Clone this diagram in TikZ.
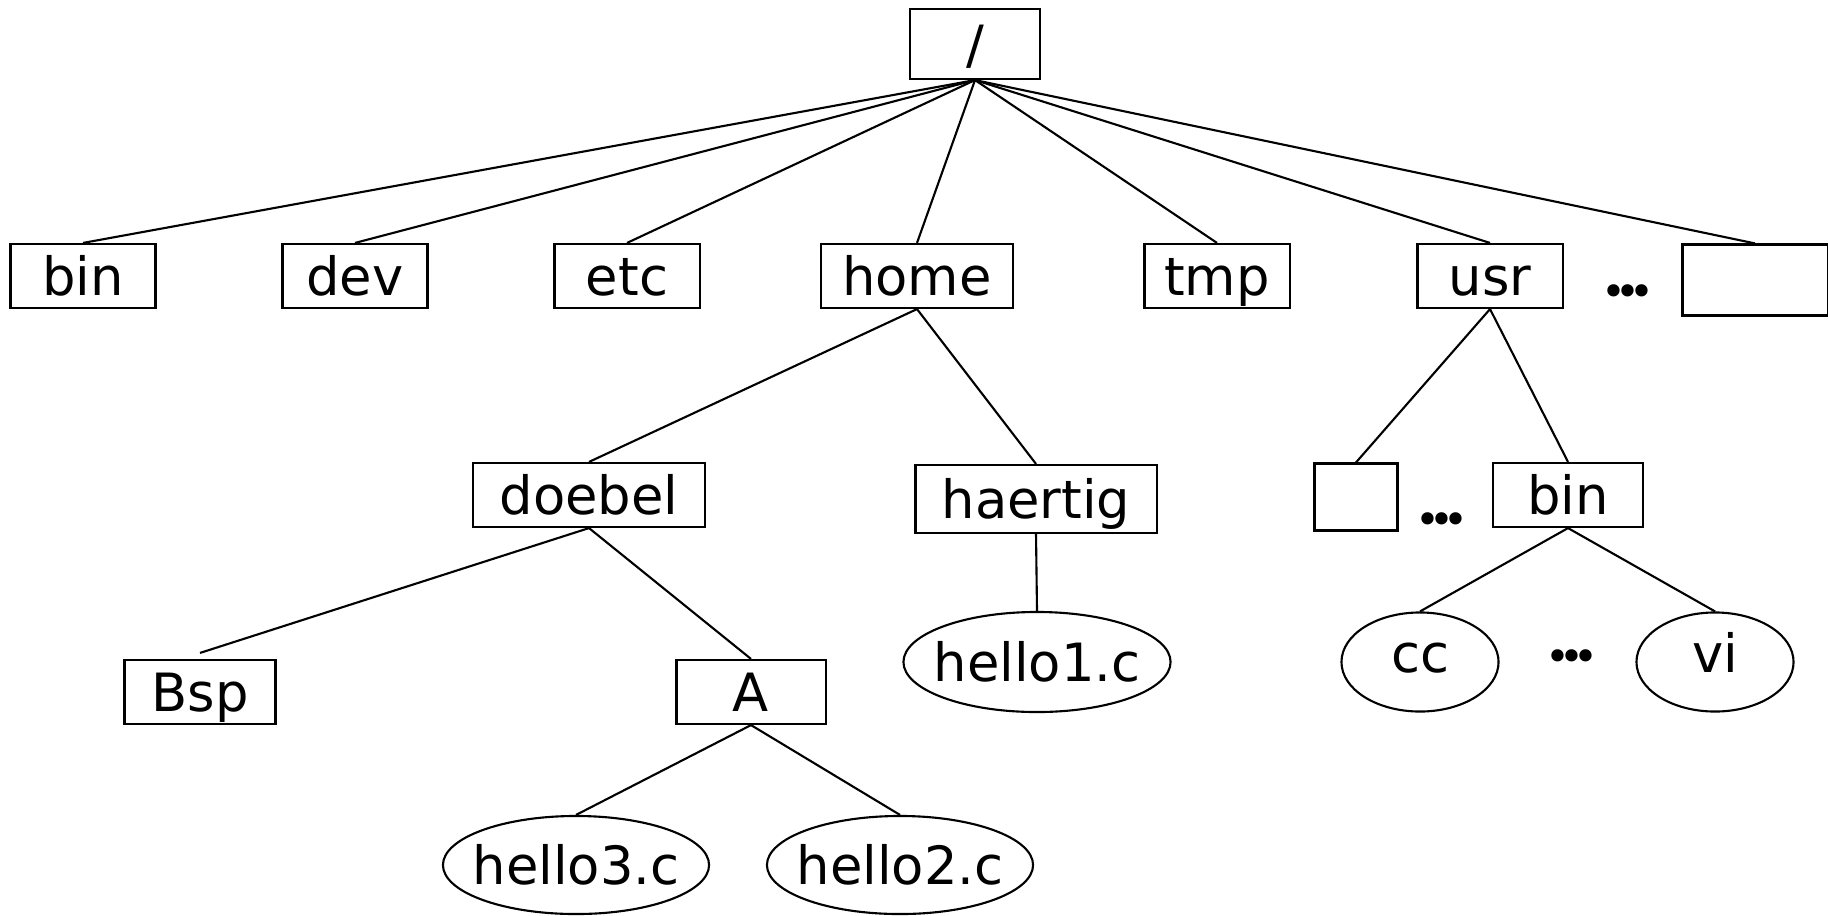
\documentclass[tikz,border=0pt]{standalone}
\usepackage{fontspec}
\setmainfont{DejaVu Sans}
\usetikzlibrary{shapes.geometric}
\tikzset{dir/.style={draw, rectangle, minimum width=1.45cm, minimum height=.64cm, inner sep=0pt,
    text height=.395cm, text depth=0cm, font=\fontsize{15}{18}\selectfont}}
\tikzset{file/.style={draw, ellipse, minimum width=2.67cm, minimum height=1cm, inner xsep=-.15cm, inner ysep=0pt,
    text height=.395cm, text depth=0cm, font=\fontsize{15}{18}\selectfont}}
\tikzset{prog/.style={file, minimum width=1.57cm, minimum height=.99cm, text height=.2cm}}
\tikzset{skip/.style={inner sep=0pt, font=\fontsize{12}{14}\selectfont}}
\newcommand{\skipdots}{•\kern-3.2pt•\kern-3.2pt•}

\begin{document}
\begin{tikzpicture}[x=.01cm, y=-.01cm, line width=.6pt]
  \useasboundingbox (0,0) rectangle (1828,915);

  % --- root ---
  \node[dir, minimum width=1.3cm, minimum height=.7cm] (root) at (975,44) {/};

  % --- first level ---
  \node[dir] (bin)  at (83,276)   {bin};
  \node[dir] (dev)  at (355,276)  {dev};
  \node[dir] (etc)  at (627,276)  {etc};
  \node[dir, minimum width=1.92cm] (home) at (917,276) {home};
  \node[dir] (tmp)  at (1217,276) {tmp};
  \node[dir] (usr)  at (1490,276) {usr};
  \node[skip] (usrdots) at (1628,296) {\skipdots};
  \node[dir, minimum height=.71cm] (other) at (1755,280) {};

  \foreach \d in {bin, dev, etc, home, tmp, usr, other}
    \draw (root.south) -- (\d.north);

  % --- home ---
  \node[dir, minimum width=2.31cm] (doebel) at (589,495) {doebel};
  \node[dir, minimum width=2.41cm, minimum height=.68cm] (haertig) at (1036,499) {haertig};
  \draw (home.south) -- (doebel.north);
  \draw (home.south) -- (haertig.north);

  \node[dir, minimum width=1.51cm] (Bsp) at (200,692) {Bsp};
  \node[dir, minimum width=1.49cm] (A)   at (751,692) {A};
  \draw (doebel.south) -- ([yshift=.06cm]Bsp.north);
  \draw (doebel.south) -- (A.north);

  \node[file] (hello1) at (1037,662) {hello1.c};
  \draw (haertig.south) -- (hello1.north);

  \node[file, minimum width=2.66cm, minimum height=.98cm] (hello3) at (576,865) {hello3.c};
  \node[file, minimum width=2.66cm, minimum height=.98cm] (hello2) at (900,865) {hello2.c};
  \draw (A.south) -- (hello3.north);
  \draw (A.south) -- (hello2.north);

  % --- usr ---
  \node[dir, minimum width=.83cm, minimum height=.67cm] (usrsub) at (1356,497) {};
  \node[skip] (subdots) at (1442,524) {\skipdots};
  \node[dir, minimum width=1.5cm] (usrbin) at (1568,495) {bin};
  \draw (usr.south) -- (usrsub.north);
  \draw (usr.south) -- (usrbin.north);

  \node[prog] (cc) at (1420,662) {cc};
  \node[skip] (bindots) at (1572,661) {\skipdots};
  \node[prog] (vi) at (1715,662) {vi};
  \draw (usrbin.south) -- (cc.north);
  \draw (usrbin.south) -- (vi.north);

\end{tikzpicture}
\end{document}
